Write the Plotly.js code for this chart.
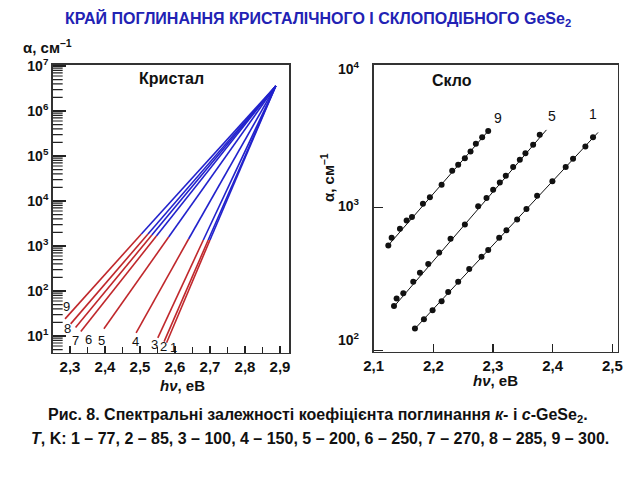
<!DOCTYPE html>
<html>
<head>
<meta charset="utf-8">
<script src="https://cdn.plot.ly/plotly-3.0.1.min.js"></script>
<style>html,body{margin:0;padding:0;background:#fff;}#chart{width:640px;height:480px;}</style>
</head>
<body>
<div id="chart"></div>
<script>
// ---------- Crystal (left panel): 9 straight lines in log scale ----------
const cryLabels = ['1','2','3','4','5','6','7','8','9'];
const cryBottomX = [2.576, 2.569, 2.551, 2.489, 2.397, 2.331, 2.316, 2.302, 2.286];
const cryBottomY = [7.1, 7.5, 9.1, 11.8, 14.5, 12.6, 15.5, 18.6, 24];
const cryMidX = [2.700, 2.695, 2.681, 2.639, 2.582, 2.547, 2.534, 2.523, 2.504];
const cryMidY = [1360, 1360, 1360, 1430, 1580, 1670, 1750, 1850, 1850];
const cryTopX = 2.888;
const cryTopY = 3.6e6;

// ---------- Glass (right panel): measured points + fitted lines ----------
const g9X = [2.1245, 2.1301, 2.144, 2.1552, 2.1641, 2.1825, 2.1942, 2.2138, 2.2316, 2.2416, 2.2528, 2.2623, 2.2712, 2.2818, 2.2919];
const g9Y = [542, 614, 710, 811, 861, 1066, 1181, 1449, 1815, 2000, 2223, 2477, 2805, 3119, 3450];
const g5X = [2.134, 2.1384, 2.1496, 2.1663, 2.1775, 2.1914, 2.2098, 2.2288, 2.2528, 2.2751, 2.2891, 2.3002, 2.3114, 2.3214, 2.3337, 2.3449, 2.3543, 2.3672, 2.3783];
const g5Y = [204, 231, 251, 302, 349, 402, 484, 604, 761, 1022, 1169, 1336, 1503, 1674, 1923, 2168, 2410, 2761, 3237];
const g1X = [2.1691, 2.1842, 2.1987, 2.2138, 2.2249, 2.2416, 2.2601, 2.2807, 2.2919, 2.3103, 2.3225, 2.3404, 2.3560, 2.3739, 2.3995, 2.4218, 2.4341, 2.4548, 2.4676];
const g1Y = [142, 165, 191, 221, 256, 302, 372, 452, 504, 614, 693, 824, 979, 1213, 1528, 1923, 2203, 2686, 3119];
const fit9X = [2.122, 2.292];
const fit9Y = [530, 3450];
const fit5X = [2.132, 2.3895];
const fit5Y = [198, 3508];
const fit1X = [2.168, 2.476];
const fit1Y = [140, 3366];
const glassLabels = ['9', '5', '1'];
const glassLabelX = [2.3085, 2.3996, 2.4675];
const glassLabelY = [4236, 4420, 4540];

// ---------- Tick labels ----------
const cryTickVals = [2.3, 2.4, 2.5, 2.6, 2.7, 2.8, 2.9];
const cryTickText = ['2,3', '2,4', '2,5', '2,6', '2,7', '2,8', '2,9'];
const glassTickVals = [2.1, 2.2, 2.3, 2.4, 2.5];
const glassTickText = ['2,1', '2,2', '2,3', '2,4', '2,5'];
const cryYTickVals = [1e1, 1e2, 1e3, 1e4, 1e5, 1e6, 1e7];
const cryYTickText = ['10<sup>1</sup>', '10<sup>2</sup>', '10<sup>3</sup>', '10<sup>4</sup>', '10<sup>5</sup>', '10<sup>6</sup>', '10<sup>7</sup>'];
const glassYTickVals = [1e2, 1e3, 1e4];
const glassYTickText = ['10<sup>2</sup>', '10<sup>3</sup>', '10<sup>4</sup>'];

const FONT = 'Liberation Sans, Arial, sans-serif';
const RED = '#c0282c';
const BLUE = '#2222cc';

// layout geometry
const LEFT_X = [0.0823, 0.452];
const RIGHT_X = [0.5839, 0.9652];
const CRY_YRANGE = [0.629, 7.033];

// minor log tick marks (2..9 x 10^n) on the crystal axis, drawn as short strokes
const shapes = [];
for (let e = 0; e <= 6; e++) {
  for (let m = 2; m <= 9; m++) {
    const v = m * Math.pow(10, e);
    const lv = Math.log10(v);
    if (lv < CRY_YRANGE[0] || lv > CRY_YRANGE[1]) continue;
    shapes.push({type: 'line', xref: 'paper', yref: 'y',
      x0: LEFT_X[0], x1: LEFT_X[0] + 10 / 640, y0: v, y1: v,
      line: {color: '#222', width: 1.2}, layer: 'above'});
  }
}

const traces = [];
for (let i = 0; i < cryLabels.length; i++) {
  traces.push({
    x: [cryBottomX[i], cryMidX[i]], y: [cryBottomY[i], cryMidY[i]],
    xaxis: 'x', yaxis: 'y', mode: 'lines', line: {color: RED, width: 1.6},
    hoverinfo: 'skip'
  });
  traces.push({
    x: [cryMidX[i], cryTopX], y: [cryMidY[i], cryTopY],
    xaxis: 'x', yaxis: 'y', mode: 'lines', line: {color: BLUE, width: 1.6},
    hoverinfo: 'skip'
  });
}

const fits = [[fit9X, fit9Y], [fit5X, fit5Y], [fit1X, fit1Y]];
fits.forEach(f => traces.push({x: f[0], y: f[1], xaxis: 'x2', yaxis: 'y2', mode: 'lines', line: {color: '#111', width: 1}}));
const pts = [[g9X, g9Y], [g5X, g5Y], [g1X, g1Y]];
pts.forEach(p => traces.push({x: p[0], y: p[1], xaxis: 'x2', yaxis: 'y2', mode: 'markers', marker: {color: '#111', size: 6}}));

// label offsets in screen pixels [right, down] relative to each line's bottom end
const labelShift = [[7,5],[-1,5],[-3,7],[-1,9],[-2,12],[8,8],[0,13],[-3,5],[1,-12]];

const annotations = [];
for (let i = 0; i < cryLabels.length; i++) {
  annotations.push({
    x: cryBottomX[i], y: Math.log10(cryBottomY[i]), xref: 'x', yref: 'y',
    xanchor: 'center', yanchor: 'middle',
    text: cryLabels[i], showarrow: false,
    xshift: labelShift[i][0], yshift: -labelShift[i][1],
    font: {family: FONT, size: 13, color: '#111'}
  });
}
for (let i = 0; i < glassLabels.length; i++) {
  annotations.push({
    x: glassLabelX[i], y: Math.log10(glassLabelY[i]), xref: 'x2', yref: 'y2',
    xanchor: 'center', yanchor: 'middle',
    text: glassLabels[i], showarrow: false,
    font: {family: FONT, size: 14, color: '#111'}
  });
}
const bold = (s) => ({family: FONT, size: s, color: '#111', weight: 'bold'});
const pa = (px, py, text, font, extra) => Object.assign({
  x: px / 640, y: 1 - py / 480, xref: 'paper', yref: 'paper',
  xanchor: 'center', yanchor: 'middle', text: text, showarrow: false, font: font
}, extra || {});
annotations.push(
  pa(171.7, 79, 'Кристал', bold(16)),
  pa(451.7, 80.7, 'Скло', bold(16)),
  pa(47, 47, 'α, см<sup>–1</sup>', bold(15)),
  pa(327, 178, 'α, см<sup>–1</sup>', bold(15), {textangle: -90}),
  pa(182, 385, '<i>hν</i>, еВ', bold(15)),
  pa(495, 380, '<i>hν</i>, еВ', bold(15)),
  pa(318, 415, 'Рис. 8. Спектральні залежності коефіцієнта поглинання <i>к</i>- і <i>с</i>-GeSe<sub>2</sub>.', bold(16)),
  pa(320, 438, '<i>T</i>, K: 1 – 77, 2 – 85, 3 – 100, 4 – 150, 5 – 200, 6 – 250, 7 – 270, 8 – 285, 9 – 300.', bold(16))
);
// right-panel y tick labels, placed as in the reference (bottom one raised)
const glassYLabelPy = [339, 205, 68];
for (let i = 0; i < glassYTickText.length; i++) {
  annotations.push(pa(362, glassYLabelPy[i], glassYTickText[i], bold(14), {xanchor: 'right'}));
}

const axBase = {
  showline: true, mirror: true, linecolor: '#333', linewidth: 1.5,
  showgrid: false, zeroline: false, ticks: 'inside', tickcolor: '#222', tickwidth: 1.2,
  tickfont: {family: FONT, size: 15, color: '#111', weight: 'bold'}
};

const layout = {
  width: 640, height: 480,
  margin: {l: 0, r: 0, t: 0, b: 0},
  paper_bgcolor: '#fff', plot_bgcolor: '#fff',
  showlegend: false,
  title: {
    text: 'КРАЙ ПОГЛИНАННЯ КРИСТАЛІЧНОГО І СКЛОПОДІБНОГО GeSe<sub>2</sub>',
    x: 0.497, xanchor: 'center', y: 1 - 18/480, yanchor: 'middle', yref: 'container',
    font: {family: FONT, size: 16, color: '#2222b4', weight: 'bold'}
  },
  xaxis: Object.assign({}, axBase, {
    domain: LEFT_X, range: [2.2506, 2.9266], anchor: 'y',
    tickmode: 'array', tickvals: cryTickVals, ticktext: cryTickText, ticklen: 7,
    minor: {dtick: 0.05, tick0: 2.3, ticks: 'inside', ticklen: 6, tickcolor: '#222', showgrid: false}
  }),
  yaxis: Object.assign({}, axBase, {
    type: 'log', domain: [0.2652, 0.8656], range: CRY_YRANGE, anchor: 'x',
    tickmode: 'array', tickvals: cryYTickVals, ticktext: cryYTickText, ticklen: 13,
    tickfont: {family: FONT, size: 14, color: '#111', weight: 'bold'}
  }),
  xaxis2: Object.assign({}, axBase, {
    domain: RIGHT_X, range: [2.1, 2.509], anchor: 'y2',
    tickmode: 'array', tickvals: glassTickVals, ticktext: glassTickText, ticklen: 8
  }),
  yaxis2: Object.assign({}, axBase, {
    type: 'log', domain: [0.2673, 0.8646], range: [1.99, 4.0], anchor: 'x2',
    tickmode: 'array', tickvals: glassYTickVals, ticklen: 9, showticklabels: false
  }),
  shapes: shapes,
  annotations: annotations
};

Plotly.newPlot('chart', traces, layout, {staticPlot: true, displayModeBar: false});
</script>
</body>
</html>
